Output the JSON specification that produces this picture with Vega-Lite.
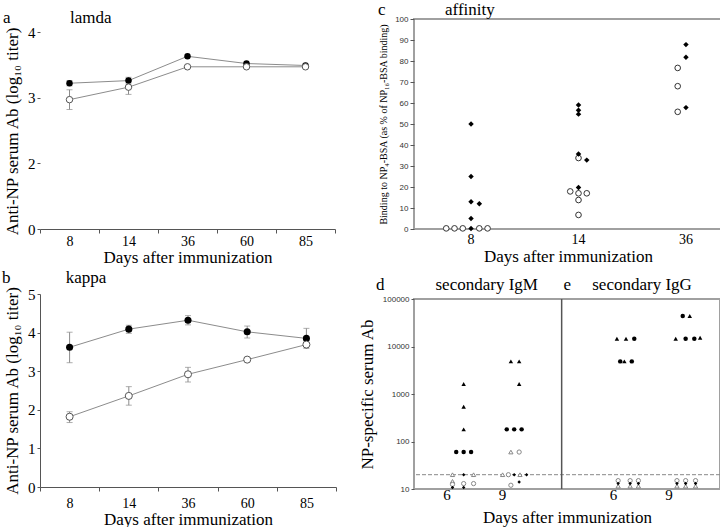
{
  "$schema": "https://vega.github.io/schema/vega-lite/v6.json",
  "padding": {"left": 2, "top": 0, "right": 2, "bottom": 0},
  "config": {
    "font": "Liberation Serif",
    "view": {"stroke": null},
    "title": {"fontWeight": "normal", "fontSize": 17, "anchor": "start", "frame": "group", "color": "black", "font": "Liberation Serif"},
    "axis": {"grid": false, "labelColor": "black", "titleColor": "black", "titleFontWeight": "normal", "domainColor": "#555", "tickColor": "#555", "labelFont": "Liberation Serif", "titleFont": "Liberation Serif", "labelOverlap": false}
  },
  "datasets": {
    "ab": [
      {"panel": "a", "group": "filled", "day": 8, "value": 3.22, "lo": 3.18, "hi": 3.26},
      {"panel": "a", "group": "filled", "day": 14, "value": 3.26, "lo": 3.21, "hi": 3.31},
      {"panel": "a", "group": "filled", "day": 36, "value": 3.63, "lo": null, "hi": null},
      {"panel": "a", "group": "filled", "day": 60, "value": 3.52, "lo": null, "hi": null},
      {"panel": "a", "group": "filled", "day": 85, "value": 3.49, "lo": null, "hi": null},
      {"panel": "a", "group": "open", "day": 8, "value": 2.97, "lo": 2.82, "hi": 3.12},
      {"panel": "a", "group": "open", "day": 14, "value": 3.16, "lo": 3.05, "hi": 3.26},
      {"panel": "a", "group": "open", "day": 36, "value": 3.47, "lo": null, "hi": null},
      {"panel": "a", "group": "open", "day": 60, "value": 3.47, "lo": null, "hi": null},
      {"panel": "a", "group": "open", "day": 85, "value": 3.47, "lo": null, "hi": null},
      {"panel": "b", "group": "filled", "day": 8, "value": 3.62, "lo": 3.22, "hi": 4.01},
      {"panel": "b", "group": "filled", "day": 14, "value": 4.09, "lo": 3.98, "hi": 4.19},
      {"panel": "b", "group": "filled", "day": 36, "value": 4.32, "lo": 4.2, "hi": 4.44},
      {"panel": "b", "group": "filled", "day": 60, "value": 4.02, "lo": 3.86, "hi": 4.17},
      {"panel": "b", "group": "filled", "day": 85, "value": 3.85, "lo": 3.59, "hi": 4.11},
      {"panel": "b", "group": "open", "day": 8, "value": 1.82, "lo": 1.67, "hi": 1.95},
      {"panel": "b", "group": "open", "day": 14, "value": 2.36, "lo": 2.12, "hi": 2.6},
      {"panel": "b", "group": "open", "day": 36, "value": 2.92, "lo": 2.72, "hi": 3.1},
      {"panel": "b", "group": "open", "day": 60, "value": 3.3, "lo": null, "hi": null},
      {"panel": "b", "group": "open", "day": 85, "value": 3.69, "lo": null, "hi": null}
    ],
    "c": [
      {"day": 8, "type": "filled", "slot": 0, "value": 50},
      {"day": 8, "type": "filled", "slot": 0, "value": 25},
      {"day": 8, "type": "filled", "slot": 0, "value": 13},
      {"day": 8, "type": "filled", "slot": 1, "value": 12},
      {"day": 8, "type": "filled", "slot": 0, "value": 5},
      {"day": 8, "type": "filled", "slot": 0, "value": 0.2},
      {"day": 8, "type": "open", "slot": -3, "value": 0.3},
      {"day": 8, "type": "open", "slot": -2, "value": 0.3},
      {"day": 8, "type": "open", "slot": -1, "value": 0.3},
      {"day": 8, "type": "open", "slot": 1, "value": 0.3},
      {"day": 8, "type": "open", "slot": 2, "value": 0.3},
      {"day": 14, "type": "filled", "slot": 0, "value": 59},
      {"day": 14, "type": "filled", "slot": 0, "value": 56.6},
      {"day": 14, "type": "filled", "slot": 0, "value": 54.7},
      {"day": 14, "type": "filled", "slot": 0, "value": 35.7},
      {"day": 14, "type": "filled", "slot": 1, "value": 32.8},
      {"day": 14, "type": "filled", "slot": 0, "value": 19.8},
      {"day": 14, "type": "open", "slot": 0, "value": 33.8},
      {"day": 14, "type": "open", "slot": -1, "value": 17.9},
      {"day": 14, "type": "open", "slot": 0, "value": 17},
      {"day": 14, "type": "open", "slot": 1, "value": 17},
      {"day": 14, "type": "open", "slot": 0, "value": 13.8},
      {"day": 14, "type": "open", "slot": 0, "value": 6.7},
      {"day": 36, "type": "filled", "slot": 0, "value": 87.8},
      {"day": 36, "type": "filled", "slot": 0, "value": 81.8},
      {"day": 36, "type": "filled", "slot": 0, "value": 57.8},
      {"day": 36, "type": "open", "slot": -1, "value": 76.7},
      {"day": 36, "type": "open", "slot": -1, "value": 68},
      {"day": 36, "type": "open", "slot": -1, "value": 55.8}
    ],
    "de": [
      {"cat": "IgM 6", "marker": "ftri", "slot": 0, "value": 1620},
      {"cat": "IgM 6", "marker": "ftri", "slot": 0, "value": 540},
      {"cat": "IgM 6", "marker": "ftri", "slot": 0, "value": 180},
      {"cat": "IgM 6", "marker": "fcirc", "slot": -0.9, "value": 60},
      {"cat": "IgM 6", "marker": "fcirc", "slot": 0, "value": 60},
      {"cat": "IgM 6", "marker": "fcirc", "slot": 0.9, "value": 60},
      {"cat": "IgM 6", "marker": "otri", "slot": -1.35, "value": 20},
      {"cat": "IgM 6", "marker": "fsm", "slot": 0, "value": 20},
      {"cat": "IgM 6", "marker": "otri", "slot": 1.2, "value": 20},
      {"cat": "IgM 6", "marker": "otri", "slot": -1.35, "value": 14.5},
      {"cat": "IgM 6", "marker": "ocirc", "slot": -1.35, "value": 12.5},
      {"cat": "IgM 6", "marker": "ocirc", "slot": 0, "value": 13},
      {"cat": "IgM 6", "marker": "ocirc", "slot": 1.2, "value": 13},
      {"cat": "IgM 6", "marker": "fsm", "slot": -1.35, "value": 10.7},
      {"cat": "IgM 6", "marker": "fsm", "slot": 0, "value": 10.7},
      {"cat": "IgM 9", "marker": "ftri", "slot": -1, "value": 4860},
      {"cat": "IgM 9", "marker": "ftri", "slot": 0, "value": 4860},
      {"cat": "IgM 9", "marker": "ftri", "slot": 0, "value": 1620},
      {"cat": "IgM 9", "marker": "fcirc", "slot": -1.5, "value": 180},
      {"cat": "IgM 9", "marker": "fcirc", "slot": -0.6, "value": 180},
      {"cat": "IgM 9", "marker": "fcirc", "slot": 0.3, "value": 180},
      {"cat": "IgM 9", "marker": "otri", "slot": -1, "value": 60},
      {"cat": "IgM 9", "marker": "ocirc", "slot": 0, "value": 60},
      {"cat": "IgM 9", "marker": "otri", "slot": -2, "value": 20},
      {"cat": "IgM 9", "marker": "ocirc", "slot": -1.3, "value": 20},
      {"cat": "IgM 9", "marker": "fsm", "slot": -0.6, "value": 20},
      {"cat": "IgM 9", "marker": "otri", "slot": 0.1, "value": 20},
      {"cat": "IgM 9", "marker": "fsm", "slot": 0.9, "value": 20},
      {"cat": "IgM 9", "marker": "ocirc", "slot": -1, "value": 12},
      {"cat": "IgM 9", "marker": "fsm", "slot": 0, "value": 14},
      {"cat": "IgG 6", "marker": "ftri", "slot": -1.6, "value": 14580},
      {"cat": "IgG 6", "marker": "ftri", "slot": -0.5, "value": 14580},
      {"cat": "IgG 6", "marker": "fcirc", "slot": 0.5, "value": 14580},
      {"cat": "IgG 6", "marker": "fcirc", "slot": -1.2, "value": 4860},
      {"cat": "IgG 6", "marker": "ftri", "slot": -0.7, "value": 4860},
      {"cat": "IgG 6", "marker": "fcirc", "slot": 0.2, "value": 4860},
      {"cat": "IgG 6", "marker": "ocirc", "slot": -1.45, "value": 15},
      {"cat": "IgG 6", "marker": "fsm", "slot": -1.45, "value": 13},
      {"cat": "IgG 6", "marker": "otri", "slot": -1.45, "value": 11.5},
      {"cat": "IgG 6", "marker": "ocirc", "slot": 0, "value": 15},
      {"cat": "IgG 6", "marker": "fsm", "slot": 0, "value": 13},
      {"cat": "IgG 6", "marker": "otri", "slot": 0, "value": 11.5},
      {"cat": "IgG 6", "marker": "ocirc", "slot": 1, "value": 15},
      {"cat": "IgG 6", "marker": "fsm", "slot": 1, "value": 13},
      {"cat": "IgG 6", "marker": "otri", "slot": 1, "value": 11.5},
      {"cat": "IgG 9", "marker": "fcirc", "slot": -0.35, "value": 43740},
      {"cat": "IgG 9", "marker": "ftri", "slot": 0.5, "value": 43740},
      {"cat": "IgG 9", "marker": "ftri", "slot": -1.2, "value": 14580},
      {"cat": "IgG 9", "marker": "fcirc", "slot": 0, "value": 14580},
      {"cat": "IgG 9", "marker": "fcirc", "slot": 1.05, "value": 14580},
      {"cat": "IgG 9", "marker": "ftri", "slot": 1.75, "value": 15300},
      {"cat": "IgG 9", "marker": "ocirc", "slot": -1.05, "value": 15},
      {"cat": "IgG 9", "marker": "fsm", "slot": -1.05, "value": 13},
      {"cat": "IgG 9", "marker": "otri", "slot": -1.05, "value": 11.5},
      {"cat": "IgG 9", "marker": "ocirc", "slot": 0, "value": 15},
      {"cat": "IgG 9", "marker": "fsm", "slot": 0, "value": 13},
      {"cat": "IgG 9", "marker": "otri", "slot": 0, "value": 11.5},
      {"cat": "IgG 9", "marker": "ocirc", "slot": 1.2, "value": 15},
      {"cat": "IgG 9", "marker": "fsm", "slot": 1.2, "value": 13},
      {"cat": "IgG 9", "marker": "otri", "slot": 1.2, "value": 11.5}
    ]
  },
  "spacing": 20,
  "hconcat": [
    {
      "spacing": 3,
      "vconcat": [
        {
          "width": 295, "height": 210,
          "title": {"text": "a\u00a0\u00a0\u00a0\u00a0\u00a0\u00a0\u00a0\u00a0\u00a0\u00a0\u00a0\u00a0\u00a0\u00a0lamda", "dx": -37, "offset": -8},
          "data": {"name": "ab"},
          "transform": [{"filter": "datum.panel == 'a'"}],
          "encoding": {
            "x": {"field": "day", "type": "ordinal", "scale": {"type": "band", "paddingInner": 0, "paddingOuter": 0},
              "axis": {"labelAngle": 0, "labelFontSize": 14, "tickBand": "extent", "tickSize": 4, "labelPadding": 1, "title": "Days after immunization", "titleFontSize": 17, "titlePadding": 1}},
            "y": {"field": "value", "type": "quantitative", "scale": {"domain": [1, 4.198], "nice": false}, "title": "Anti-NP serum Ab (log₁₀ titer)",
              "axis": {"values": [1, 2, 3, 4], "format": "d", "labelExpr": "datum.value == 1 ? '0' : datum.label", "labelFontSize": 15, "tickSize": 3, "domain": false, "titleFontSize": 17, "titlePadding": 6, "titleY": 112}}
          },
          "layer": [
            {"data": {"values": [{}]}, "mark": {"type": "rule", "color": "#555", "strokeWidth": 1},
              "encoding": {"x": {"datum": 8, "type": "ordinal", "bandPosition": 0},
                "y": {"datum": 1, "type": "quantitative", "scale": {"domain": [1, 4.198], "nice": false}, "title": "Anti-NP serum Ab (log₁₀ titer)",
                  "axis": {"values": [1, 2, 3, 4], "format": "d", "labelExpr": "datum.value == 1 ? '0' : datum.label", "labelFontSize": 15, "tickSize": 3, "domain": false, "titleFontSize": 17, "titlePadding": 6, "titleY": 112}},
                "y2": {"datum": 4}}},
            {"mark": {"type": "line", "color": "#8c8c8c", "strokeWidth": 1},
              "encoding": {"detail": {"field": "group"}}},
            {"transform": [{"filter": "isValid(datum.lo)"}], "mark": {"type": "rule", "color": "#8c8c8c"},
              "encoding": {"y": {"field": "lo", "type": "quantitative", "scale": {"domain": [1, 4.198], "nice": false}, "title": "Anti-NP serum Ab (log₁₀ titer)",
                "axis": {"values": [1, 2, 3, 4], "format": "d", "labelExpr": "datum.value == 1 ? '0' : datum.label", "labelFontSize": 15, "tickSize": 3, "domain": false, "titleFontSize": 17, "titlePadding": 6, "titleY": 112}}, "y2": {"field": "hi"}}},
            {"transform": [{"filter": "isValid(datum.lo)"}], "mark": {"type": "tick", "color": "#8c8c8c", "size": 6, "thickness": 1},
              "encoding": {"y": {"field": "lo", "type": "quantitative", "scale": {"domain": [1, 4.198], "nice": false}, "title": "Anti-NP serum Ab (log₁₀ titer)",
                "axis": {"values": [1, 2, 3, 4], "format": "d", "labelExpr": "datum.value == 1 ? '0' : datum.label", "labelFontSize": 15, "tickSize": 3, "domain": false, "titleFontSize": 17, "titlePadding": 6, "titleY": 112}}}},
            {"transform": [{"filter": "isValid(datum.hi)"}], "mark": {"type": "tick", "color": "#8c8c8c", "size": 6, "thickness": 1},
              "encoding": {"y": {"field": "hi", "type": "quantitative", "scale": {"domain": [1, 4.198], "nice": false}, "title": "Anti-NP serum Ab (log₁₀ titer)",
                "axis": {"values": [1, 2, 3, 4], "format": "d", "labelExpr": "datum.value == 1 ? '0' : datum.label", "labelFontSize": 15, "tickSize": 3, "domain": false, "titleFontSize": 17, "titlePadding": 6, "titleY": 112}}}},
            {"transform": [{"filter": "datum.group == 'filled'"}], "mark": {"type": "circle", "color": "black", "size": 42, "opacity": 1}},
            {"transform": [{"filter": "datum.group == 'open'"}], "mark": {"type": "point", "shape": "circle", "filled": true, "fill": "white", "stroke": "#555", "strokeWidth": 1, "size": 42, "opacity": 1}}
          ]
        },
        {
          "width": 296, "height": 193,
          "title": {"text": "b\u00a0\u00a0\u00a0\u00a0\u00a0\u00a0\u00a0\u00a0\u00a0\u00a0\u00a0\u00a0\u00a0kappa", "dx": -38, "offset": -1},
          "data": {"name": "ab"},
          "transform": [{"filter": "datum.panel == 'b'"}],
          "encoding": {
            "x": {"field": "day", "type": "ordinal", "scale": {"type": "band", "paddingInner": 0, "paddingOuter": 0},
              "axis": {"labelAngle": 0, "labelFontSize": 14, "tickBand": "extent", "tickSize": 4, "labelPadding": 5, "title": "Days after immunization", "titleFontSize": 17, "titlePadding": 1}},
            "y": {"field": "value", "type": "quantitative", "scale": {"domain": [0, 5]}, "title": "Anti-NP serum Ab (log₁₀ titer)",
              "axis": {"values": [0, 1, 2, 3, 4, 5], "format": "d", "labelFontSize": 15, "tickSize": 3, "titleFontSize": 17, "titlePadding": 6}}
          },
          "layer": [
            {"mark": {"type": "line", "color": "#8c8c8c", "strokeWidth": 1},
              "encoding": {"detail": {"field": "group"}}},
            {"transform": [{"filter": "isValid(datum.lo)"}], "mark": {"type": "rule", "color": "#8c8c8c"},
              "encoding": {"y": {"field": "lo", "type": "quantitative", "scale": {"domain": [0, 5]}, "title": "Anti-NP serum Ab (log₁₀ titer)",
                "axis": {"values": [0, 1, 2, 3, 4, 5], "format": "d", "labelFontSize": 15, "tickSize": 3, "titleFontSize": 17, "titlePadding": 6}}, "y2": {"field": "hi"}}},
            {"transform": [{"filter": "isValid(datum.lo)"}], "mark": {"type": "tick", "color": "#8c8c8c", "size": 6, "thickness": 1},
              "encoding": {"y": {"field": "lo", "type": "quantitative", "scale": {"domain": [0, 5]}, "title": "Anti-NP serum Ab (log₁₀ titer)",
                "axis": {"values": [0, 1, 2, 3, 4, 5], "format": "d", "labelFontSize": 15, "tickSize": 3, "titleFontSize": 17, "titlePadding": 6}}}},
            {"transform": [{"filter": "isValid(datum.hi)"}], "mark": {"type": "tick", "color": "#8c8c8c", "size": 6, "thickness": 1},
              "encoding": {"y": {"field": "hi", "type": "quantitative", "scale": {"domain": [0, 5]}, "title": "Anti-NP serum Ab (log₁₀ titer)",
                "axis": {"values": [0, 1, 2, 3, 4, 5], "format": "d", "labelFontSize": 15, "tickSize": 3, "titleFontSize": 17, "titlePadding": 6}}}},
            {"transform": [{"filter": "datum.group == 'filled'"}], "mark": {"type": "circle", "color": "black", "size": 50, "opacity": 1}},
            {"transform": [{"filter": "datum.group == 'open'"}], "mark": {"type": "point", "shape": "circle", "filled": true, "fill": "white", "stroke": "#555", "strokeWidth": 1, "size": 50, "opacity": 1}}
          ]
        }
      ]
    },
    {
      "spacing": 10,
      "vconcat": [
        {
          "width": 308, "height": 210,
          "view": {"stroke": "#a0a0a0", "strokeWidth": 2},
          "title": {"text": "c\u00a0\u00a0\u00a0\u00a0\u00a0\u00a0\u00a0\u00a0\u00a0\u00a0\u00a0\u00a0\u00a0\u00a0affinity", "dx": -36, "offset": -4},
          "data": {"name": "c"},
          "encoding": {
            "x": {"field": "day", "type": "ordinal", "scale": {"type": "band", "paddingInner": 0.5, "paddingOuter": 0.183, "align": 0.767},
              "axis": {"labelAngle": 0, "labelFontSize": 14, "ticks": false, "domain": false, "labelPadding": 3, "title": "Days after immunization", "titleFontSize": 17, "titlePadding": 2}},
            "xOffset": {"field": "slot", "type": "quantitative", "scale": {"domain": [-3.25, 3.25]}},
            "y": {"field": "value", "type": "quantitative", "scale": {"domain": [0, 100]}, "title": "Binding to NP₄-BSA (as % of NP₁₆-BSA binding)",
              "axis": {"values": [0, 10, 20, 30, 40, 50, 60, 70, 80, 90, 100], "labelFont": "Liberation Sans", "labelFontSize": 8, "labelColor": "#333", "tickSize": 4, "domain": false, "titleFontSize": 10, "titlePadding": 6}}
          },
          "layer": [
            {"transform": [{"filter": "datum.type == 'open'"}], "mark": {"type": "point", "shape": "circle", "filled": true, "fill": "white", "stroke": "#333", "strokeWidth": 1, "size": 32, "opacity": 1}},
            {"transform": [{"filter": "datum.type == 'filled'"}], "mark": {"type": "point", "shape": "diamond", "filled": true, "color": "black", "size": 30, "opacity": 1}}
          ]
        },
        {
          "width": 306, "height": 190,
          "view": {"stroke": "#a0a0a0", "strokeWidth": 2},
          "title": {"text": "d\u00a0\u00a0\u00a0\u00a0\u00a0\u00a0\u00a0\u00a0\u00a0\u00a0\u00a0\u00a0secondary IgM\u00a0\u00a0\u00a0\u00a0\u00a0\u00a0e\u00a0\u00a0\u00a0\u00a0\u00a0secondary IgG", "dx": -38, "offset": 1},
          "layer": [
            {"data": {"values": [{}]}, "mark": {"type": "rule", "color": "#888", "strokeDash": [4, 2], "strokeWidth": 1},
              "encoding": {"y": {"datum": 20, "type": "quantitative", "scale": {"type": "log", "domain": [10, 100000]}}}},
            {"data": {"values": [{}]}, "mark": {"type": "rule", "color": "#555", "strokeWidth": 1.5},
              "encoding": {"x": {"datum": "gap", "type": "nominal", "scale": {"type": "band", "domain": ["IgM 6", "IgM 9", "gap", "IgG 6", "IgG 9"], "paddingInner": 0.5, "paddingOuter": 0.507, "align": 0.405}}}},
            {
              "data": {"name": "de"},
              "encoding": {
                "x": {"field": "cat", "type": "nominal", "scale": {"type": "band", "domain": ["IgM 6", "IgM 9", "gap", "IgG 6", "IgG 9"], "paddingInner": 0.5, "paddingOuter": 0.507, "align": 0.405},
                  "axis": {"labelExpr": "datum.value == 'gap' ? '' : slice(datum.value, 4)", "labelAngle": 0, "ticks": false, "domain": false, "labelFontSize": 15, "labelPadding": 5, "title": "Days after immunization", "titleFontSize": 17, "titlePadding": 7}},
                "xOffset": {"field": "slot", "type": "quantitative", "scale": {"domain": [-2.43, 2.43]}},
                "y": {"field": "value", "type": "quantitative", "scale": {"type": "log", "domain": [10, 100000]}, "title": "NP-specific serum Ab",
                  "axis": {"values": [10, 100, 1000, 10000, 100000], "format": "d", "labelFont": "Liberation Sans", "labelFontSize": 8, "labelColor": "#333", "tickSize": 3, "domain": false, "titleFontSize": 17, "titlePadding": 6}}
              },
              "layer": [
                {"transform": [{"filter": "datum.marker == 'otri'"}], "mark": {"type": "point", "shape": "triangle-up", "filled": true, "fill": "white", "stroke": "#888", "strokeWidth": 1, "size": 18, "opacity": 1}},
                {"transform": [{"filter": "datum.marker == 'ocirc'"}], "mark": {"type": "point", "shape": "circle", "filled": true, "fill": "white", "stroke": "#888", "strokeWidth": 1, "size": 18, "opacity": 1}},
                {"transform": [{"filter": "datum.marker == 'ftri'"}], "mark": {"type": "point", "shape": "triangle-up", "filled": true, "color": "black", "size": 20, "opacity": 1}},
                {"transform": [{"filter": "datum.marker == 'fcirc'"}], "mark": {"type": "point", "shape": "circle", "filled": true, "color": "black", "size": 20, "opacity": 1}},
                {"transform": [{"filter": "datum.marker == 'fsm'"}], "mark": {"type": "point", "shape": "diamond", "filled": true, "color": "black", "size": 12, "opacity": 1}}
              ]
            }
          ]
        }
      ]
    }
  ]
}
